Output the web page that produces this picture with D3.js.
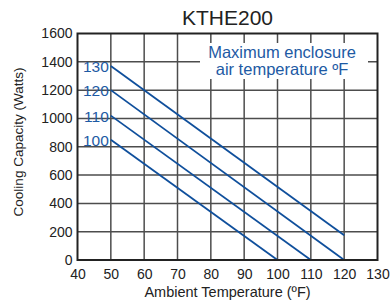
<!DOCTYPE html>
<html><head><meta charset="utf-8">
<script src="https://cdn.jsdelivr.net/npm/d3@7"></script>
<style>body{margin:0;background:#fff}svg{display:block}text{font-family:"Liberation Sans",Arial,sans-serif}</style>
</head><body>
<svg id="c" width="390" height="304"></svg>
<script>
const seriesLabels = ["100", "110", "120", "130"];
const startTemp = [50, 50, 50, 50];
const startCap = [850, 1020, 1200, 1370];
const endTemp = [100, 110, 120, 120];
const endCap = [0, 0, 0, 175];
const xTicks = [40, 50, 60, 70, 80, 90, 100, 110, 120, 130];
const yTicks = [0, 200, 400, 600, 800, 1000, 1200, 1400, 1600];

const svg = d3.select("#c");
const m = {l: 77.5, r: 377.5, t: 33.5, b: 260};
const x = d3.scaleLinear().domain([40, 130]).range([m.l, m.r]);
const y = d3.scaleLinear().domain([0, 1600]).range([m.b, m.t]);
const lineCol = "#0f4f9c", textCol = "#1d5aa4";

// grid
const g = svg.append("g");
g.selectAll(".vx").data(xTicks.slice(1, -1)).join("line")
  .attr("x1", d => x(d)).attr("x2", d => x(d)).attr("y1", m.t).attr("y2", m.b)
  .attr("stroke", "#4d4d4d").attr("stroke-width", 1.5);
g.selectAll(".hy").data(yTicks.slice(1, -1)).join("line")
  .attr("y1", d => y(d)).attr("y2", d => y(d)).attr("x1", m.l).attr("x2", m.r)
  .attr("stroke", "#4d4d4d").attr("stroke-width", 1.5);

// legend box (white background covering grid)
svg.append("rect").attr("x", 200).attr("y", 43).attr("width", 168).attr("height", 36).attr("fill", "#fff");
svg.append("text").attr("x", 282).attr("y", 58).attr("text-anchor", "middle")
  .attr("font-size", 16.5).attr("fill", textCol).text("Maximum enclosure");
svg.append("text").attr("x", 282).attr("y", 75).attr("text-anchor", "middle")
  .attr("font-size", 16.5).attr("fill", textCol).text("air temperature ºF");

// lines
seriesLabels.forEach((lab, i) => {
  const pts = [[startTemp[i], startCap[i]], [endTemp[i], endCap[i]]];
  svg.append("path").attr("d", d3.line().x(d => x(d[0])).y(d => y(d[1]))(pts))
    .attr("fill", "none").attr("stroke", lineCol).attr("stroke-width", 1.8);
  svg.append("text").attr("x", x(startTemp[i]) - 2).attr("y", y(startCap[i]) + 6)
    .attr("text-anchor", "end").attr("font-size", 15.5).attr("fill", textCol).text(lab);
});

// frame
svg.append("rect").attr("x", m.l).attr("y", m.t).attr("width", m.r - m.l).attr("height", m.b - m.t)
  .attr("fill", "none").attr("stroke", "#222").attr("stroke-width", 2);

// axes
const xa = svg.append("g").attr("transform", `translate(0,${m.b})`)
  .call(d3.axisBottom(x).tickValues(xTicks).tickSize(0).tickPadding(9).tickFormat(d3.format("d")));
const ya = svg.append("g").attr("transform", `translate(${m.l},0)`)
  .call(d3.axisLeft(y).tickValues(yTicks).tickSize(0).tickPadding(5).tickFormat(d3.format("d")));
[xa, ya].forEach(a => {
  a.select(".domain").remove();
  a.selectAll("text").attr("font-size", 14).attr("fill", "#222")
    .style("font-family", '"Liberation Sans",Arial,sans-serif');
});

svg.append("text").attr("x", (m.l + m.r) / 2).attr("y", 25).attr("text-anchor", "middle")
  .attr("font-size", 21).attr("fill", "#222").text("KTHE200");
svg.append("text").attr("x", (m.l + m.r) / 2).attr("y", 297).attr("text-anchor", "middle")
  .attr("font-size", 14.5).attr("fill", "#222").text("Ambient Temperature (ºF)");
svg.append("text").attr("transform", `translate(23,142) rotate(-90)`)
  .attr("text-anchor", "middle").attr("font-size", 13.5).attr("fill", "#222").text("Cooling Capacity (Watts)");
</script>
</body></html>
